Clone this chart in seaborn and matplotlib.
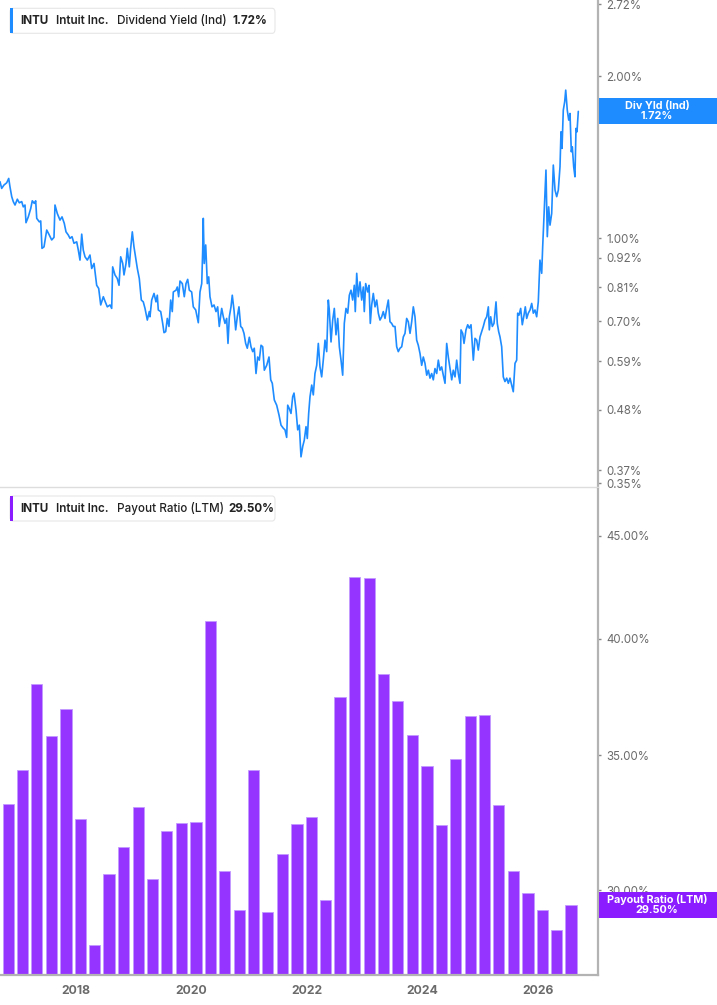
import numpy as np
import pandas as pd
import matplotlib
matplotlib.use("Agg")
import matplotlib.pyplot as plt
from matplotlib.patches import Rectangle, FancyBboxPatch
import seaborn as sns

sns.set_style("white")
plt.rcParams["font.family"] = ["Inter", "DejaVu Sans"]

# INTU dividend yield (indicated) (decimal year, %)
yield_years = [
    2016.689, 2016.718, 2016.758, 2016.805, 2016.840, 2016.862, 2016.892, 2016.919, 2016.949, 2016.989,
    2017.023, 2017.065, 2017.092, 2017.122, 2017.139, 2017.179, 2017.221, 2017.248, 2017.283, 2017.307,
    2017.325, 2017.370, 2017.394, 2017.416, 2017.451, 2017.498, 2017.543, 2017.584, 2017.624, 2017.641,
    2017.681, 2017.728, 2017.763, 2017.802, 2017.832, 2017.872, 2017.901, 2017.936, 2017.970, 2018.017,
    2018.045, 2018.074, 2018.104, 2018.131, 2018.161, 2018.201, 2018.247, 2018.277, 2018.317, 2018.363,
    2018.398, 2018.433, 2018.478, 2018.512, 2018.547, 2018.594, 2018.623, 2018.640, 2018.680, 2018.720,
    2018.750, 2018.779, 2018.814, 2018.836, 2018.871, 2018.893, 2018.928, 2018.952, 2018.980, 2019.009,
    2019.039, 2019.067, 2019.101, 2019.136, 2019.170, 2019.200, 2019.240, 2019.274, 2019.286, 2019.316,
    2019.356, 2019.390, 2019.413, 2019.430, 2019.472, 2019.506, 2019.529, 2019.558, 2019.586, 2019.615,
    2019.645, 2019.672, 2019.690, 2019.737, 2019.759, 2019.783, 2019.806, 2019.846, 2019.880, 2019.910,
    2019.939, 2019.967, 2020.008, 2020.036, 2020.078, 2020.123, 2020.152, 2020.182, 2020.199, 2020.209,
    2020.226, 2020.251, 2020.279, 2020.303, 2020.325, 2020.360, 2020.395, 2020.429, 2020.458, 2020.486,
    2020.528, 2020.556, 2020.585, 2020.614, 2020.637, 2020.660, 2020.689, 2020.711, 2020.741, 2020.770,
    2020.798, 2020.827, 2020.857, 2020.885, 2020.914, 2020.943, 2020.971, 2021.006, 2021.035, 2021.065,
    2021.092, 2021.122, 2021.151, 2021.179, 2021.209, 2021.238, 2021.266, 2021.307, 2021.347, 2021.377,
    2021.404, 2021.439, 2021.480, 2021.520, 2021.555, 2021.595, 2021.624, 2021.653, 2021.671, 2021.698,
    2021.728, 2021.757, 2021.780, 2021.815, 2021.844, 2021.872, 2021.901, 2021.931, 2021.958, 2021.988,
    2022.010, 2022.034, 2022.057, 2022.087, 2022.114, 2022.143, 2022.173, 2022.201, 2022.230, 2022.259,
    2022.287, 2022.317, 2022.346, 2022.374, 2022.391, 2022.421, 2022.450, 2022.478, 2022.507, 2022.537,
    2022.565, 2022.594, 2022.623, 2022.651, 2022.680, 2022.710, 2022.738, 2022.767, 2022.796, 2022.824,
    2022.841, 2022.866, 2022.893, 2022.923, 2022.952, 2022.980, 2022.997, 2023.021, 2023.056, 2023.079,
    2023.101, 2023.125, 2023.153, 2023.183, 2023.212, 2023.240, 2023.269, 2023.299, 2023.326, 2023.356,
    2023.385, 2023.413, 2023.442, 2023.471, 2023.499, 2023.529, 2023.558, 2023.586, 2023.615, 2023.645,
    2023.673, 2023.702, 2023.731, 2023.759, 2023.789, 2023.818, 2023.846, 2023.875, 2023.904, 2023.932,
    2023.962, 2023.991, 2024.019, 2024.048, 2024.078, 2024.106, 2024.135, 2024.164, 2024.192, 2024.221,
    2024.251, 2024.279, 2024.308, 2024.337, 2024.365, 2024.395, 2024.424, 2024.452, 2024.481, 2024.511,
    2024.538, 2024.568, 2024.597, 2024.625, 2024.654, 2024.672, 2024.701, 2024.724, 2024.758, 2024.788,
    2024.815, 2024.845, 2024.867, 2024.885, 2024.914, 2024.943, 2024.971, 2025.001, 2025.030, 2025.058,
    2025.087, 2025.117, 2025.145, 2025.162, 2025.186, 2025.214, 2025.243, 2025.260, 2025.278, 2025.300,
    2025.324, 2025.347, 2025.376, 2025.404, 2025.433, 2025.463, 2025.491, 2025.520, 2025.550, 2025.577,
    2025.607, 2025.636, 2025.653, 2025.676, 2025.705, 2025.733, 2025.763, 2025.785, 2025.809, 2025.837,
    2025.867, 2025.896, 2025.924, 2025.953, 2025.982, 2026.010, 2026.039, 2026.069, 2026.086, 2026.109,
    2026.126, 2026.143, 2026.166, 2026.190, 2026.213, 2026.242, 2026.270, 2026.300, 2026.329, 2026.357,
    2026.386, 2026.403, 2026.421, 2026.443, 2026.467, 2026.485, 2026.512, 2026.537, 2026.559, 2026.582,
    2026.599, 2026.623, 2026.645, 2026.663, 2026.680, 2026.703,
]
yield_vals = [
    1.273, 1.237, 1.255, 1.267, 1.291, 1.245, 1.194, 1.169, 1.152, 1.181,
    1.163, 1.169, 1.143, 1.152, 1.068, 1.095, 1.135, 1.173, 1.160, 1.173,
    1.088, 1.072, 1.076, 0.957, 0.963, 1.035, 1.013, 0.992, 1.003, 1.152,
    1.111, 1.080, 1.095, 1.065, 1.027, 1.013, 0.999, 1.006, 0.978, 0.984,
    0.950, 0.910, 1.017, 0.950, 0.923, 0.910, 0.930, 0.878, 0.897, 0.817,
    0.806, 0.751, 0.778, 0.761, 0.745, 0.751, 0.740, 0.884, 0.854, 0.841,
    0.817, 0.923, 0.897, 0.854, 0.897, 0.957, 0.884, 0.957, 1.027, 0.963,
    0.917, 0.878, 0.841, 0.767, 0.761, 0.740, 0.704, 0.730, 0.714, 0.767,
    0.789, 0.761, 0.783, 0.735, 0.730, 0.694, 0.667, 0.670, 0.709, 0.685,
    0.767, 0.730, 0.794, 0.800, 0.811, 0.778, 0.832, 0.823, 0.778, 0.823,
    0.838, 0.800, 0.794, 0.745, 0.735, 0.696, 0.794, 0.823, 0.950, 1.088,
    0.897, 0.971, 0.823, 0.847, 0.778, 0.745, 0.751, 0.730, 0.745, 0.685,
    0.740, 0.714, 0.694, 0.709, 0.637, 0.714, 0.745, 0.783, 0.735, 0.675,
    0.714, 0.745, 0.685, 0.680, 0.665, 0.637, 0.624, 0.654, 0.628, 0.615,
    0.624, 0.560, 0.601, 0.593, 0.632, 0.628, 0.568, 0.580, 0.601, 0.545,
    0.537, 0.500, 0.489, 0.469, 0.449, 0.443, 0.440, 0.426, 0.489, 0.482,
    0.472, 0.507, 0.515, 0.479, 0.440, 0.449, 0.392, 0.410, 0.421, 0.446,
    0.424, 0.472, 0.507, 0.533, 0.511, 0.560, 0.580, 0.637, 0.576, 0.552,
    0.593, 0.646, 0.615, 0.767, 0.735, 0.641, 0.704, 0.740, 0.661, 0.709,
    0.628, 0.593, 0.556, 0.694, 0.740, 0.725, 0.783, 0.800, 0.767, 0.817,
    0.730, 0.860, 0.778, 0.829, 0.767, 0.811, 0.730, 0.823, 0.794, 0.817,
    0.694, 0.751, 0.789, 0.745, 0.767, 0.725, 0.704, 0.714, 0.730, 0.709,
    0.740, 0.767, 0.699, 0.694, 0.685, 0.685, 0.628, 0.615, 0.624, 0.628,
    0.655, 0.665, 0.709, 0.699, 0.665, 0.699, 0.745, 0.714, 0.646, 0.632,
    0.610, 0.580, 0.601, 0.585, 0.556, 0.568, 0.549, 0.560, 0.545, 0.572,
    0.560, 0.593, 0.568, 0.576, 0.556, 0.537, 0.637, 0.601, 0.573, 0.545,
    0.568, 0.552, 0.593, 0.560, 0.537, 0.675, 0.665, 0.637, 0.675, 0.690,
    0.680, 0.690, 0.637, 0.593, 0.651, 0.646, 0.619, 0.655, 0.670, 0.685,
    0.704, 0.714, 0.745, 0.675, 0.714, 0.685, 0.694, 0.725, 0.761, 0.694,
    0.670, 0.655, 0.628, 0.552, 0.541, 0.549, 0.537, 0.549, 0.533, 0.518,
    0.585, 0.593, 0.725, 0.719, 0.740, 0.690, 0.719, 0.745, 0.709, 0.725,
    0.735, 0.756, 0.725, 0.735, 0.714, 0.761, 0.910, 0.860, 0.963, 1.095,
    1.194, 1.338, 1.006, 1.143, 1.057, 1.111, 1.367, 1.228, 1.194, 1.228,
    1.357, 1.576, 1.468, 1.729, 1.792, 1.884, 1.729, 1.657, 1.705, 1.447,
    1.478, 1.357, 1.300, 1.599, 1.576, 1.720,
]

# payout ratio (LTM) per fiscal quarter, first quarter end Oct 2016
first_quarter_end = "2016-10-31"
payout_ratio = [
    33.10, 34.41, 38.00, 35.78, 36.90, 32.53, 28.17, 30.56, 31.51, 32.98,
    30.38, 32.11, 32.40, 32.43, 40.82, 30.65, 29.31, 34.41, 29.26, 31.25,
    32.35, 32.63, 29.66, 37.42, 42.92, 42.89, 38.42, 37.24, 35.81, 34.57,
    32.32, 34.85, 36.62, 36.64, 33.07, 30.66, 29.90, 29.31, 28.65, 29.50,
]

yield_ticks = [2.72, 2.00, 1.00, 0.92, 0.81, 0.70, 0.59, 0.48, 0.37, 0.35]
payout_ticks = [45.0, 40.0, 35.0, 30.0]
year_ticks = [2018, 2020, 2022, 2024, 2026]

last_yield = 1.72
last_payout = 29.50

BLUE = "#1e8cff"
PURPLE = "#9533ff"
PURPLE_LABEL = "#8a1cff"
AXIS_GREY = "#b3b3b3"
TEXT_GREY = "#6b6b6b"

quarter_ends = pd.date_range(first_quarter_end, periods=len(payout_ratio),
                             freq=pd.offsets.MonthEnd(3))
quarter_years = (quarter_ends.year + (quarter_ends.dayofyear - 1)
                 / np.where(quarter_ends.is_leap_year, 366, 365)).to_numpy()
bars = pd.DataFrame({"year": np.round(quarter_years, 4), "payout": payout_ratio})
line = pd.DataFrame({"year": yield_years, "yield": yield_vals})

W, H = 717, 1005
fig = plt.figure(figsize=(W / 100, H / 100), dpi=100)


def fx(px):
    return px / W


def fy(py):
    return 1 - py / H


ax1 = fig.add_axes([0, fy(487), fx(598), 487 / H])
ax2 = fig.add_axes([0, fy(975), fx(598), (975 - 489) / H])

xlim = (2016.689, 2027.044)

# top: dividend yield line
sns.lineplot(data=line, x="year", y="yield", ax=ax1, color=BLUE,
             linewidth=1.2, estimator=None, sort=False)
ax1.set_yscale("log")
ax1.set_ylim(0.3445, 2.771)
ax1.set_xlim(*xlim)

# bottom: payout ratio bars
sns.barplot(data=bars, x="year", y="payout", ax=ax2, native_scale=True,
            color=PURPLE, edgecolor="#c29aff", linewidth=0.6, errorbar=None,
            saturation=1)
ax2.set_yscale("log")
ax2.set_ylim(27.22, 47.48)
ax2.set_xlim(*xlim)

for ax, ticks in ((ax1, yield_ticks), (ax2, payout_ticks)):
    ax.yaxis.tick_right()
    ax.yaxis.set_minor_locator(matplotlib.ticker.NullLocator())
    ax.set_yticks(ticks)
    ax.set_yticklabels([f"{t:.2f}%" for t in ticks])
    ax.tick_params(axis="y", which="major", direction="out", length=2,
                   width=1, color="#888888", pad=4, labelsize=8.3,
                   labelcolor=TEXT_GREY)
    ax.set_xlabel("")
    ax.set_ylabel("")
    ax.spines["top"].set_visible(False)
    ax.spines["left"].set_visible(False)
    ax.spines["right"].set_color(AXIS_GREY)
    ax.spines["right"].set_linewidth(1.6)
    ax.patch.set_alpha(0)

ax1.set_xticks([])
ax1.spines["bottom"].set_color("#dddddd")
ax1.spines["bottom"].set_linewidth(1.0)

ax2.xaxis.set_minor_locator(matplotlib.ticker.NullLocator())
ax2.set_xticks(year_ticks)
ax2.set_xticklabels([str(y) for y in year_ticks], fontweight="bold")
ax2.tick_params(axis="x", direction="out", length=4, width=1.2,
                color=AXIS_GREY, pad=3, labelsize=8.8, labelcolor=TEXT_GREY)
ax2.spines["bottom"].set_color(AXIS_GREY)
ax2.spines["bottom"].set_linewidth(1.6)


def value_label(ax, value, text, color):
    # box on the right of the axis, centred on the value
    _, ypix = ax.transData.transform((xlim[0], value))
    yc = ypix / fig.bbox.height
    h = 26 / H
    fig.patches.append(Rectangle((fx(599), yc - h / 2), fx(W - 599), h,
                                 transform=fig.transFigure, facecolor=color,
                                 edgecolor="none", zorder=5))
    fig.text(fx(657), yc, text, ha="center", va="center", color="white",
             fontsize=7.8, fontweight="bold", linespacing=1.0, zorder=6)


value_label(ax1, last_yield, f"Div Yld (Ind)\n{last_yield:.2f}%", BLUE)
value_label(ax2, last_payout, f"Payout Ratio (LTM)\n{last_payout:.2f}%", PURPLE_LABEL)


def legend_box(top, color, metric, value, value_x):
    box = FancyBboxPatch((fx(10), fy(top + 25)), fx(265), 25 / H,
                         boxstyle="round,pad=0,rounding_size=0.004",
                         transform=fig.transFigure, facecolor="white",
                         edgecolor="#e6e6e6", linewidth=0.8, zorder=7)
    fig.patches.append(box)
    fig.patches.append(Rectangle((fx(10), fy(top + 25)), fx(3.3), 25 / H,
                                 transform=fig.transFigure, facecolor=color,
                                 edgecolor="none", zorder=8))
    yc = fy(top + 12.8)
    kw = dict(va="center", ha="left", fontsize=8.4, color="#222222", zorder=9)
    fig.text(fx(20.5), yc, "INTU", fontweight="bold", **kw)
    fig.text(fx(56.5), yc, "Intuit Inc.", fontweight="semibold", **kw)
    fig.text(fx(117), yc, metric, fontweight="medium", **kw)
    fig.text(fx(value_x), yc, value, fontweight="bold", **kw)


legend_box(8.3, BLUE, "Dividend Yield (Ind)", f"{last_yield:.2f}%", 232)
legend_box(496, "#8a1cff", "Payout Ratio (LTM)", f"{last_payout:.2f}%", 228)

fig.savefig("out.png", dpi=100)
